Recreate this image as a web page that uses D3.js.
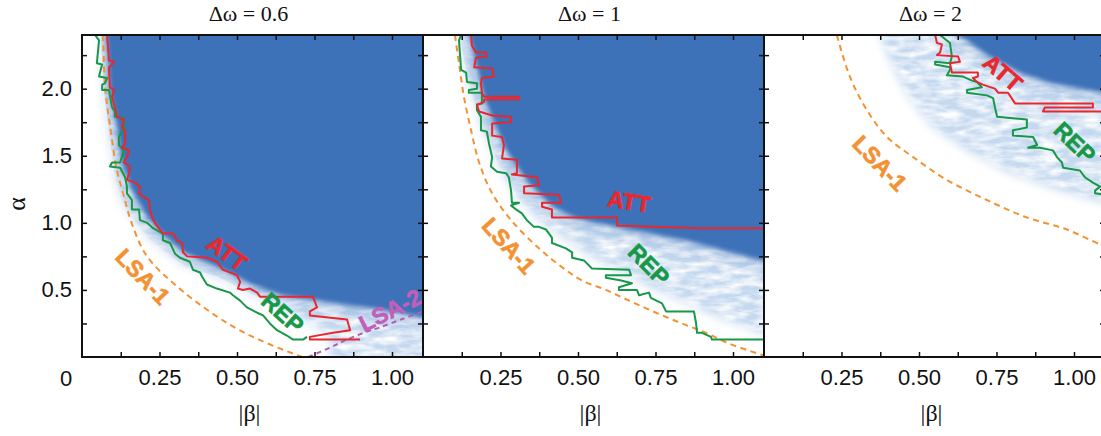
<!DOCTYPE html>
<html>
<head>
<meta charset="utf-8">
<script src="https://cdn.jsdelivr.net/npm/d3@7"></script>
<style>
  body { margin: 0; background: #fff; }
  svg { display: block; }
</style>
</head>
<body>
<svg id="chart" width="1101" height="436"></svg>
<script>
// ---- data (|beta|, alpha) ----
var panelTitles = ["Δω = 0.6", "Δω = 1", "Δω = 2"];
var xTickValues = [0.25, 0.5, 0.75, 1.0];
var xTickLabels = ["0.25", "0.50", "0.75", "1.00"];
var yTickValues = [0.5, 1.0, 1.5, 2.0];
var yTickLabels = ["0.5", "1.0", "1.5", "2.0"];
var xMinorTicks = [0.125, 0.25, 0.375, 0.5, 0.625, 0.75, 0.875, 1.0];
var yMinorTicks = [0.25, 0.5, 0.75, 1.0, 1.25, 1.5, 1.75, 2.0, 2.25];

// panel 1 (dw = 0.6)
var attP1 = [[.081,2.40],[.087,2.21],[.103,2.20],[.097,2.18],[.087,2.16],[.090,2.01],[.103,1.99],[.097,1.94],[.106,1.86],[.113,1.79],[.135,1.77],[.129,1.71],[.139,1.69],[.139,1.59],[.129,1.56],[.152,1.54],[.145,1.49],[.135,1.45],[.155,1.42],[.152,1.37],[.145,1.32],[.171,1.30],[.187,1.27],[.184,1.22],[.2,1.19],[.216,1.17],[.219,1.10],[.226,1.04],[.235,1.00],[.261,0.92],[.294,0.92],[.306,0.87],[.323,0.85],[.326,0.78],[.339,0.75],[.403,0.74],[.435,0.71],[.455,0.65],[.5,0.61],[.51,0.56],[.503,0.51],[.519,0.50],[.542,0.51],[.565,0.48],[.574,0.45],[.745,0.45],[.758,0.37],[.735,0.34],[.735,0.31],[.81,0.29],[.855,0.28],[.865,0.20],[.81,0.18],[.735,0.15],[.735,0.13],[.897,0.13]];
var repP1 = [[.042,2.40],[.055,2.36],[.048,2.19],[.065,2.18],[.058,2.12],[.055,2.09],[.081,2.08],[.074,2.04],[.065,2.03],[.065,1.99],[.087,1.99],[.090,1.95],[.097,1.86],[.106,1.83],[.106,1.79],[.135,1.78],[.135,1.71],[.119,1.64],[.119,1.58],[.135,1.54],[.123,1.45],[.097,1.45],[.090,1.42],[.123,1.41],[.139,1.34],[.145,1.27],[.145,1.22],[.161,1.17],[.161,1.10],[.184,1.10],[.187,1.02],[.210,1.00],[.229,0.96],[.261,0.92],[.261,0.87],[.284,0.85],[.3,0.77],[.316,0.74],[.348,0.71],[.358,0.65],[.381,0.63],[.387,0.60],[.403,0.54],[.435,0.51],[.477,0.48],[.487,0.46],[.51,0.42],[.532,0.37],[.565,0.33],[.584,0.31],[.606,0.25],[.629,0.20],[.661,0.16],[.681,0.13],[.713,0.13],[.726,0.15]];
var lsa1P1 = [[.068,2.40],[.075,2.0],[.092,1.7],[.112,1.4],[.135,1.2],[.16,1.0],[.21,0.75],[.32,0.5],[.47,0.25],[.58,0.12],[.71,0.0]];
var lsa2P1 = [[.73,0.0],[.80,0.07],[.855,0.13],[.92,0.19],[.96,0.22],[1.03,0.28],[1.1,0.34]];
var solidEdgeP1 = [[.08,2.4],[.09,2.0],[.115,1.7],[.13,1.45],[.16,1.25],[.21,1.05],[.26,0.92],[.33,0.78],[.45,0.66],[.55,0.54],[.65,0.46],[.8,0.41],[.95,0.36],[1.1,0.3]];
var fadeEdgeP1 = [[.06,2.4],[.07,2.0],[.09,1.6],[.11,1.3],[.14,1.1],[.175,1.0],[.22,0.87],[.33,0.68],[.435,0.6],[.55,0.47],[.648,0.35],[.74,0.24],[.8,0.16],[.8,0.0]];

// panel 2 (dw = 1)
var attP2 = [[.155,2.40],[.158,2.32],[.171,2.27],[.203,2.27],[.206,2.24],[.171,2.23],[.165,2.16],[.223,2.15],[.229,2.09],[.19,2.08],[.187,2.04],[.19,1.97],[.197,1.94],[.31,1.94],[.31,1.92],[.197,1.92],[.197,1.90],[.174,1.88],[.181,1.83],[.223,1.80],[.284,1.79],[.284,1.75],[.223,1.74],[.223,1.65],[.255,1.64],[.261,1.58],[.255,1.48],[.303,1.47],[.303,1.37],[.287,1.36],[.368,1.34],[.374,1.28],[.326,1.27],[.326,1.22],[.439,1.21],[.445,1.15],[.384,1.15],[.384,1.12],[.416,1.10],[.416,1.04],[.626,1.04],[.626,0.98],[.89,0.96],[.9,0.96],[1.1,0.96]];
var repP2 = [[.123,2.40],[.116,2.36],[.123,2.14],[.139,2.12],[.142,2.05],[.174,2.04],[.174,2.0],[.148,1.99],[.148,1.97],[.19,1.97],[.19,1.89],[.174,1.88],[.174,1.84],[.187,1.79],[.187,1.69],[.206,1.68],[.213,1.59],[.223,1.49],[.219,1.42],[.239,1.38],[.268,1.37],[.277,1.34],[.284,1.24],[.287,1.15],[.31,1.15],[.284,1.13],[.3,1.10],[.319,1.07],[.335,1.02],[.358,0.97],[.374,0.97],[.397,0.95],[.416,0.89],[.416,0.85],[.461,0.81],[.481,0.78],[.481,0.74],[.519,0.72],[.545,0.66],[.665,0.65],[.671,0.61],[.59,0.61],[.59,0.59],[.639,0.57],[.674,0.55],[.632,0.52],[.632,0.50],[.69,0.50],[.697,0.46],[.729,0.48],[.735,0.44],[.771,0.40],[.784,0.34],[.874,0.34],[.881,0.25],[.884,0.18],[.9,0.18],[.929,0.15],[.932,0.13],[1.1,0.13]];
var lsa1P2 = [[.103,2.40],[.116,2.19],[.132,1.94],[.155,1.69],[.181,1.45],[.223,1.22],[.284,1.02],[.374,0.81],[.448,0.67],[.513,0.57],[.59,0.50],[.665,0.42],[.752,0.33],[.835,0.25],[.913,0.18],[.987,0.10],[1.074,0.03],[1.1,0.01]];
var solidEdgeP2 = [[.15,2.4],[.2,1.92],[.27,1.54],[.34,1.3],[.42,1.12],[.5,1.03],[.63,0.97],[.85,0.87],[1.1,0.72]];
var fadeEdgeP2 = [[.116,2.4],[.148,2.04],[.19,1.71],[.245,1.42],[.31,1.17],[.397,0.97],[.526,0.77],[.66,0.6],[.8,0.45],[.95,0.3],[1.1,0.17]];

// panel 3 (dw = 2)
var attP3 = [[.552,2.40],[.558,2.34],[.574,2.33],[.568,2.27],[.558,2.25],[.626,2.24],[.632,2.20],[.6,2.19],[.606,2.12],[.69,2.12],[.69,2.09],[.674,2.08],[.687,2.05],[.706,2.03],[.745,2.0],[.755,1.97],[.787,1.97],[.81,1.89],[1.061,1.89],[1.061,1.86],[.906,1.86],[.9,1.83],[1.1,1.83]];
var repP3 = [[.568,2.40],[.6,2.34],[.606,2.24],[.6,2.19],[.552,2.20],[.552,2.18],[.6,2.16],[.6,2.14],[.59,2.10],[.642,2.09],[.671,2.06],[.687,2.05],[.703,2.01],[.655,1.99],[.655,1.97],[.719,1.95],[.739,1.93],[.745,1.86],[.752,1.79],[.848,1.77],[.848,1.71],[.803,1.69],[.803,1.65],[.868,1.64],[.881,1.58],[.852,1.56],[.89,1.56],[.932,1.54],[.945,1.49],[.961,1.45],[.965,1.41],[1.019,1.39],[1.035,1.34],[1.061,1.30],[1.084,1.27],[1.068,1.24],[1.068,1.22],[1.1,1.21]];
var lsa1P3 = [[.235,2.40],[.277,2.09],[.332,1.84],[.397,1.64],[.481,1.49],[.590,1.32],[.719,1.17],[.848,1.04],[.977,0.95],[1.084,0.84],[1.1,0.83]];
var solidEdgeP3 = [[.62,2.4],[.655,2.36],[.729,2.24],[.826,2.12],[.932,2.04],[1.1,1.97]];
var fadeEdgeP3 = [[.374,2.4],[.416,2.16],[.471,1.92],[.545,1.71],[.655,1.54],[.794,1.37],[.955,1.24],[1.1,1.15]];

// curve labels: text, |beta|, alpha, angle
var labelsP1 = [["ATT", .468, .775, 36], ["REP", .648, .33, 42], ["LSA-1", .197, .60, 46], ["LSA-2", .994, .35, -27]];
var labelsP2 = [["ATT", .665, 1.16, 9], ["REP", .729, .69, 45], ["LSA-1", .277, .83, 48]];
var labelsP3 = [["ATT", .771, 2.12, 41], ["REP", 1.003, 1.60, 44], ["LSA-1", .374, 1.445, 46]];

var panels = [
  {title: panelTitles[0], att: attP1, rep: repP1, lsa1: lsa1P1, lsa2: lsa2P1, solid: solidEdgeP1, fade: fadeEdgeP1, labels: labelsP1},
  {title: panelTitles[1], att: attP2, rep: repP2, lsa1: lsa1P2, lsa2: null, solid: solidEdgeP2, fade: fadeEdgeP2, labels: labelsP2},
  {title: panelTitles[2], att: attP3, rep: repP3, lsa1: lsa1P3, lsa2: null, solid: solidEdgeP3, fade: fadeEdgeP3, labels: labelsP3}
];

var colors = {blue: "#3d71b8", pale: "#c4d9f0", att: "#e8282e", rep: "#179848", lsa1: "#f39233", lsa2: "#b45cb4"};
var labelColors = {"ATT": colors.att, "REP": colors.rep, "LSA-1": colors.lsa1, "LSA-2": "#c25fb8"};

var sans = "'Liberation Sans', Arial, Helvetica, sans-serif";
var serif = "'Liberation Serif', 'Times New Roman', serif";

var svg = d3.select("#chart");
var left0 = 82, panelW = 341, plotTop = 35, plotBottom = 357;

var defs = svg.append("defs");

// soft edge + streaky texture for the transition band
var band = defs.append("filter").attr("id", "band")
    .attr("filterUnits", "userSpaceOnUse")
    .attr("x", -200).attr("y", -200).attr("width", 1600).attr("height", 900);
band.append("feGaussianBlur").attr("in", "SourceGraphic").attr("stdDeviation", 5).attr("result", "b");
band.append("feTurbulence").attr("type", "fractalNoise").attr("baseFrequency", "0.05 0.16")
    .attr("numOctaves", 3).attr("seed", 7).attr("result", "n");
band.append("feColorMatrix").attr("in", "n").attr("type", "matrix")
    .attr("values", "0 0 0 0 1  0 0 0 0 1  0 0 0 0 1  0 0 0 -2.0 1.35").attr("result", "w");
band.append("feComposite").attr("in", "w").attr("in2", "b").attr("operator", "in").attr("result", "wb");
var merge = band.append("feMerge");
merge.append("feMergeNode").attr("in", "b");
merge.append("feMergeNode").attr("in", "wb");

var glow = defs.append("filter").attr("id", "glow")
    .attr("filterUnits", "userSpaceOnUse")
    .attr("x", -200).attr("y", -200).attr("width", 1600).attr("height", 900);
glow.append("feGaussianBlur").attr("stdDeviation", 11);

var edge = defs.append("filter").attr("id", "edge")
    .attr("filterUnits", "userSpaceOnUse")
    .attr("x", -200).attr("y", -200).attr("width", 1600).attr("height", 900);
edge.append("feGaussianBlur").attr("stdDeviation", 2.2);

// close a region edge (top -> right/bottom) round the upper right corner, a bit past the frame
function regionPoints(pts) {
  var first = pts[0], last = pts[pts.length - 1];
  var out = [[first[0], 3.2]].concat(pts);
  if (last[1] <= 0.001) {
    out.push([last[0], -0.6], [1.7, -0.6]);
  } else {
    out.push([1.7, last[1]]);
  }
  out.push([1.7, 3.2]);
  return out;
}

panels.forEach(function(p, i) {
  var L = left0 + i * panelW;
  var x = d3.scaleLinear().domain([0, 1.1]).range([L, L + panelW]);
  var y = d3.scaleLinear().domain([0, 2.4]).range([plotBottom, plotTop]);
  var line = d3.line().x(function(d) { return x(d[0]); }).y(function(d) { return y(d[1]); });
  var smooth = d3.line().x(function(d) { return x(d[0]); }).y(function(d) { return y(d[1]); })
      .curve(d3.curveCatmullRom.alpha(0.5));

  defs.append("clipPath").attr("id", "clip" + i)
    .append("rect").attr("x", L).attr("y", plotTop).attr("width", panelW).attr("height", plotBottom - plotTop);
  defs.append("clipPath").attr("id", "fadeclip" + i)
    .append("path").attr("d", line(regionPoints(p.fade)) + "Z");

  var g = svg.append("g");
  var plot = g.append("g").attr("clip-path", "url(#clip" + i + ")");

  // density map
  plot.append("path")
      .attr("d", line(regionPoints(p.fade)) + "Z")
      .attr("fill", colors.pale)
      .attr("filter", "url(#band)");
  plot.append("g").attr("clip-path", "url(#fadeclip" + i + ")")
    .append("path")
      .attr("d", line(regionPoints(p.solid)) + "Z")
      .attr("fill", colors.blue)
      .attr("opacity", 0.6)
      .attr("filter", "url(#glow)");
  plot.append("path")
      .attr("d", line(regionPoints(p.solid)) + "Z")
      .attr("fill", colors.blue)
      .attr("filter", "url(#edge)");

  // analytic curves
  plot.append("path").attr("d", smooth(p.lsa1))
      .attr("fill", "none").attr("stroke", colors.lsa1).attr("stroke-width", 2)
      .attr("stroke-dasharray", "6,4.5");
  if (p.lsa2) {
    plot.append("path").attr("d", smooth(p.lsa2))
        .attr("fill", "none").attr("stroke", colors.lsa2).attr("stroke-width", 2)
        .attr("stroke-dasharray", "5,4");
  }

  // simulation contours
  plot.append("path").attr("d", line(p.rep))
      .attr("fill", "none").attr("stroke", colors.rep).attr("stroke-width", 2)
      .attr("stroke-linejoin", "round");
  plot.append("path").attr("d", line(p.att))
      .attr("fill", "none").attr("stroke", colors.att).attr("stroke-width", 2)
      .attr("stroke-linejoin", "round");

  // curve labels
  plot.selectAll("text.curve")
    .data(p.labels)
    .enter().append("text")
      .attr("class", "curve")
      .attr("transform", function(d) { return "translate(" + x(d[1]) + "," + y(d[2]) + ") rotate(" + d[3] + ")"; })
      .attr("text-anchor", "middle")
      .attr("dy", "0.36em")
      .attr("font-family", sans)
      .attr("font-weight", "bold")
      .attr("font-size", 23)
      .attr("fill", function(d) { return labelColors[d[0]]; })
      .attr("stroke", function(d) { return labelColors[d[0]]; })
      .attr("stroke-width", 0.7)
      .text(function(d) { return d[0]; });

  // axes, ticks pointing inward on all sides
  var gx = g.append("g").attr("transform", "translate(0," + plotBottom + ")")
      .call(d3.axisBottom(x).tickValues(xMinorTicks).tickSizeInner(-5).tickSizeOuter(0).tickPadding(12)
        .tickFormat(function(d) { var k = xTickValues.indexOf(d); return k >= 0 ? xTickLabels[k] : ""; }));
  var gt = g.append("g").attr("transform", "translate(0," + plotTop + ")")
      .call(d3.axisTop(x).tickValues(xMinorTicks).tickSizeInner(-5).tickSizeOuter(0).tickFormat(""));
  var gy = g.append("g").attr("transform", "translate(" + L + ",0)")
      .call(d3.axisLeft(y).tickValues(yMinorTicks).tickSizeInner(-5).tickSizeOuter(0).tickPadding(10)
        .tickFormat(function(d) { var k = yTickValues.indexOf(d); return (i === 0 && k >= 0) ? yTickLabels[k] : ""; }));
  var gr = g.append("g").attr("transform", "translate(" + (L + panelW) + ",0)")
      .call(d3.axisRight(y).tickValues(yMinorTicks).tickSizeInner(-5).tickSizeOuter(0).tickFormat(""));
  [gx, gt, gy, gr].forEach(function(a) {
    a.select(".domain").remove();
    a.attr("font-family", sans).attr("font-size", 22);
    a.selectAll(".tick line").attr("stroke", "#111").attr("stroke-width", 1.5);
    a.selectAll(".tick text").attr("fill", "#111");
  });

  g.append("rect")
      .attr("x", L).attr("y", plotTop).attr("width", panelW).attr("height", plotBottom - plotTop)
      .attr("fill", "none").attr("stroke", "#111").attr("stroke-width", 2);

  // titles and axis names
  g.append("text")
      .attr("x", L + panelW / 2 - 4).attr("y", 21)
      .attr("text-anchor", "middle")
      .attr("font-family", serif).attr("font-size", 22).attr("fill", "#111")
      .text(p.title);
  g.append("text")
      .attr("x", L + panelW / 2 - 3).attr("y", 421)
      .attr("text-anchor", "middle")
      .attr("font-family", serif).attr("font-size", 24).attr("fill", "#111")
      .text("|β|");

  if (i === 0) {
    g.append("text")
        .attr("x", x(0) - 16).attr("y", 386)
        .attr("text-anchor", "middle")
        .attr("font-family", sans).attr("font-size", 22).attr("fill", "#111")
        .text("0");
    g.append("text")
        .attr("transform", "translate(25," + ((plotTop + plotBottom) / 2 + 8) + ") rotate(-90)")
        .attr("text-anchor", "middle")
        .attr("font-family", serif).attr("font-size", 26).attr("fill", "#111")
        .text("α");
  }
});
</script>
</body>
</html>
